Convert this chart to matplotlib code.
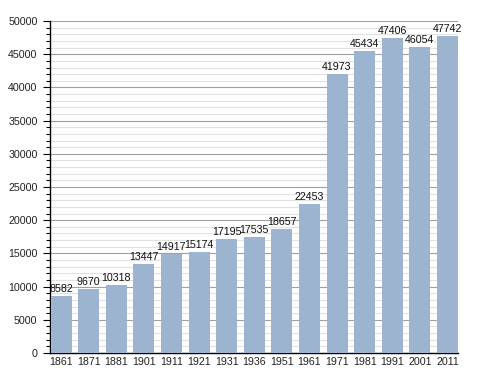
import numpy as np
from matplotlib import pyplot as plt
from matplotlib.ticker import MultipleLocator

# census years and population
years = ['1861', '1871', '1881', '1901', '1911', '1921', '1931', '1936',
         '1951', '1961', '1971', '1981', '1991', '2001', '2011']
population = [8582, 9670, 10318, 13447, 14917, 15174, 17195, 17535,
              18657, 22453, 41973, 45434, 47406, 46054, 47742]

plt.rcParams['font.family'] = ['Liberation Sans', 'DejaVu Sans']

fig = plt.figure(figsize=(4.88, 3.73), dpi=100)
ax = fig.add_axes([0.1025, 0.0536, 0.837, 0.890])

x = np.arange(len(years))
ax.bar(x, population, width=0.76, color='#9cb4cf', zorder=3)

# value labels above the bars
for xi, v in zip(x, population):
    ax.text(xi, v + 300, str(v), ha='center', va='bottom', fontsize=7.7,
            color='#111111', zorder=4)

ax.set_xlim(-0.4, len(years) - 0.6)
ax.set_ylim(0, 50000)
ax.set_xticks(x)
ax.set_xticklabels(years)
ax.yaxis.set_major_locator(MultipleLocator(5000))
ax.yaxis.set_minor_locator(MultipleLocator(1000))

# grid lines behind the bars
ax.grid(True, axis='y', which='major', color='#a0a0a0', linewidth=0.8, zorder=0)
ax.grid(True, axis='y', which='minor', color='#e2e2e2', linewidth=0.8, zorder=0)

ax.spines['top'].set_visible(False)
ax.spines['right'].set_visible(False)
ax.spines['left'].set_linewidth(1.0)
ax.spines['bottom'].set_linewidth(1.0)

ax.tick_params(axis='y', which='major', length=5, width=0.8, labelsize=7.7,
               pad=4, labelcolor='#222222')
ax.tick_params(axis='y', which='minor', length=3, width=0.8)
ax.tick_params(axis='x', length=0, labelsize=7.7, pad=3, labelcolor='#222222')

plt.savefig('out.png', dpi=100)
